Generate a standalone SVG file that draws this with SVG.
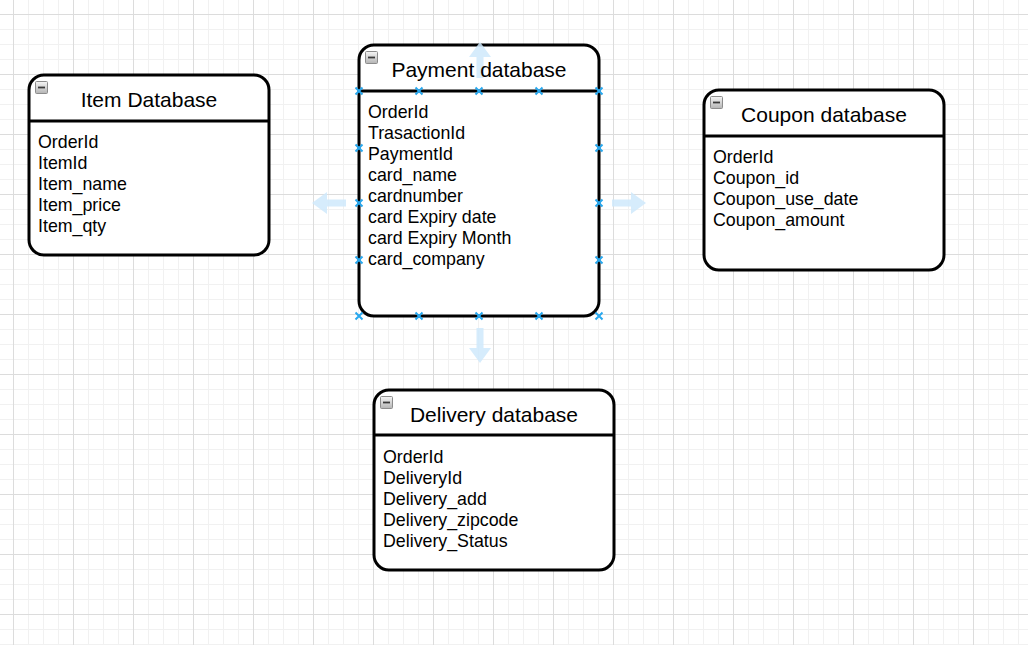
<svg xmlns="http://www.w3.org/2000/svg" width="1028" height="645" viewBox="0 0 1028 645">
<defs>
<pattern id="grid" patternUnits="userSpaceOnUse" x="13" y="14" width="60" height="60">
<rect width="60" height="60" fill="#ffffff"/>
<g fill="#f1f1f1">
<rect x="15" y="0" width="1" height="60"/><rect x="30" y="0" width="1" height="60"/><rect x="45" y="0" width="1" height="60"/>
<rect x="0" y="15" width="60" height="1"/><rect x="0" y="30" width="60" height="1"/><rect x="0" y="45" width="60" height="1"/>
</g>
<g fill="#dcdcdc">
<rect x="0" y="0" width="1" height="60"/><rect x="0" y="0" width="60" height="1"/>
</g>
</pattern>
<linearGradient id="btn" x1="0" y1="0" x2="0" y2="1">
<stop offset="0" stop-color="#f6f6f6"/><stop offset="1" stop-color="#b4b4b4"/>
</linearGradient>
<g id="minus">
<rect x="0.5" y="0.5" width="12" height="12" rx="1" fill="url(#btn)" stroke="#8c8c8c" stroke-width="1"/>
<rect x="3" y="5.6" width="7" height="1.8" fill="#3a3a3a"/>
</g>
<g id="xm"><path d="M-3.5,-3.5 L3.5,3.5 M-3.5,3.5 L3.5,-3.5" stroke="#29a8ee" stroke-width="2" fill="none"/></g>
</defs>
<style>
.box{fill:#ffffff;stroke:#000;stroke-width:3}
.hdr{stroke:#000;stroke-width:3}
.title{font-family:"Liberation Sans",Arial,sans-serif;font-size:21px;fill:#000;text-anchor:middle}
.field{font-family:"Liberation Sans",Arial,sans-serif;font-size:17.8px;fill:#000}
.hover{fill:#cfe9fb;fill-opacity:0.85}
</style>
<rect width="1028" height="645" fill="url(#grid)"/>
<g id="connectors"></g>
<g id="item-database">
<rect class="box" x="29" y="75" width="240" height="180" rx="15" ry="15"/>
<line class="hdr" x1="29" y1="121" x2="269" y2="121"/>
<use href="#minus" x="35" y="81"/>
<text class="title" x="149" y="107">Item Database</text>
<text class="field" x="38" y="148">OrderId</text>
<text class="field" x="38" y="169">ItemId</text>
<text class="field" x="38" y="190">Item_name</text>
<text class="field" x="38" y="211">Item_price</text>
<text class="field" x="38" y="232">Item_qty</text>
</g>
<g id="payment-database">
<rect class="box" x="359" y="45" width="240" height="271" rx="15" ry="15"/>
<line class="hdr" x1="359" y1="91" x2="599" y2="91"/>
<path class="hover" d="M480,42 L491,57 L483.5,57 L483.5,78 L476.5,78 L476.5,57 L469,57 Z"/>
<use href="#minus" x="365" y="51"/>
<text class="title" x="479" y="77">Payment database</text>
<text class="field" x="368" y="118">OrderId</text>
<text class="field" x="368" y="139">TrasactionId</text>
<text class="field" x="368" y="160">PaymentId</text>
<text class="field" x="368" y="181">card_name</text>
<text class="field" x="368" y="202">cardnumber</text>
<text class="field" x="368" y="223">card Expiry date</text>
<text class="field" x="368" y="244">card Expiry Month</text>
<text class="field" x="368" y="265">card_company</text>
</g>
<g id="coupon-database">
<rect class="box" x="704" y="90" width="240" height="180" rx="15" ry="15"/>
<line class="hdr" x1="704" y1="136" x2="944" y2="136"/>
<use href="#minus" x="710" y="96"/>
<text class="title" x="824" y="122">Coupon database</text>
<text class="field" x="713" y="163">OrderId</text>
<text class="field" x="713" y="184">Coupon_id</text>
<text class="field" x="713" y="205">Coupon_use_date</text>
<text class="field" x="713" y="226">Coupon_amount</text>
</g>
<g id="delivery-database">
<rect class="box" x="374" y="390" width="240" height="180" rx="15" ry="15"/>
<line class="hdr" x1="374" y1="435" x2="614" y2="435"/>
<use href="#minus" x="380" y="396"/>
<text class="title" x="494" y="422">Delivery database</text>
<text class="field" x="383" y="463">OrderId</text>
<text class="field" x="383" y="484">DeliveryId</text>
<text class="field" x="383" y="505">Delivery_add</text>
<text class="field" x="383" y="526">Delivery_zipcode</text>
<text class="field" x="383" y="547">Delivery_Status</text>
</g>
<g id="hover-handles">
<path class="hover" d="M312,203 L327,192 L327,199.5 L346,199.5 L346,206.5 L327,206.5 L327,214 Z"/>
<path class="hover" d="M646,203 L631,192 L631,199.5 L612,199.5 L612,206.5 L631,206.5 L631,214 Z"/>
<path class="hover" d="M480,363 L469,348 L476.5,348 L476.5,328 L483.5,328 L483.5,348 L491,348 Z"/>
<use href="#xm" x="359" y="91"/><use href="#xm" x="419" y="91"/><use href="#xm" x="479" y="91"/><use href="#xm" x="539" y="91"/><use href="#xm" x="599" y="91"/>
<use href="#xm" x="359" y="148"/><use href="#xm" x="599" y="148"/>
<use href="#xm" x="359" y="203"/><use href="#xm" x="599" y="203"/>
<use href="#xm" x="359" y="260"/><use href="#xm" x="599" y="260"/>
<use href="#xm" x="359" y="316"/><use href="#xm" x="419" y="316"/><use href="#xm" x="479" y="316"/><use href="#xm" x="539" y="316"/><use href="#xm" x="599" y="316"/>
</g>
</svg>
